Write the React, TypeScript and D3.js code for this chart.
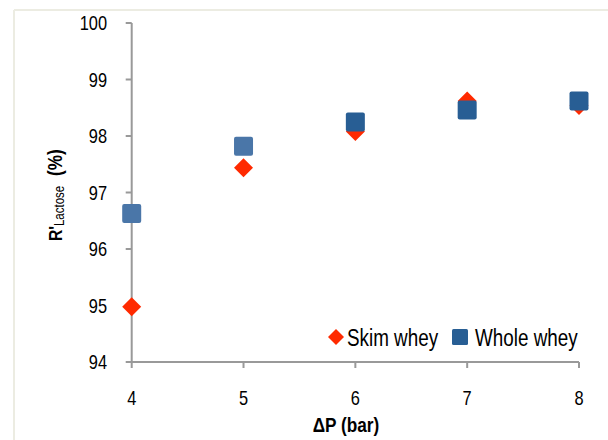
import React from "react";
import * as d3 from "d3";

const pressures = [4, 5, 6, 7, 8];
const skimWhey = [94.98, 97.44, 98.08, 98.62, 98.54];
const wholeWhey = [96.63, 97.82, 98.25, 98.46, 98.62];
const xTicks = [4, 5, 6, 7, 8];
const yTicks = [94, 95, 96, 97, 98, 99, 100];
const seriesNames = ["Skim whey", "Whole whey"];

const W = 608;
const H = 440;
const FONT = "'Liberation Sans', Arial, sans-serif";
const NARROW = 0.82;
const RED = "#ff2a00";
const BLUE_DARK = "#285e94";
const BLUE_LIGHT = "#4a76a8";
const AXIS = "#999999";

function NText(props: {
  x: number;
  y: number;
  size: number;
  anchor?: string;
  bold?: boolean;
  dy?: string;
  children: React.ReactNode;
}) {
  return (
    <text
      transform={`translate(${props.x},${props.y}) scale(${NARROW},1)`}
      textAnchor={props.anchor || "start"}
      dy={props.dy}
      fontFamily={FONT}
      fontSize={props.size}
      fontWeight={props.bold ? "bold" : "normal"}
      fill="#000"
    >
      {props.children}
    </text>
  );
}

export default function App() {
  const x = d3.scaleLinear().domain([4, 8]).range([131.7, 579]);
  const y = d3.scaleLinear().domain([94, 100]).range([362, 23]);
  const diamond = (cx: number, cy: number, r: number, ry: number) =>
    `M${cx},${cy - ry}L${cx + r},${cy}L${cx},${cy + ry}L${cx - r},${cy}Z`;
  const sq = 19;

  return (
    <svg width={W} height={H} style={{ position: "absolute", left: 0, top: 0, background: "#fff" }}>
      {/* frame */}
      <line x1={14} y1={10} x2={W} y2={10} stroke="#ecece2" strokeWidth={2} />
      <line x1={14} y1={10} x2={14} y2={H} stroke="#ecece2" strokeWidth={2} />

      {/* axes */}
      <line x1={x(4)} y1={y(100)} x2={x(4)} y2={y(94)} stroke={AXIS} strokeWidth={2} />
      <line x1={x(4)} y1={y(94)} x2={x(8)} y2={y(94)} stroke={AXIS} strokeWidth={2} />
      {yTicks.map((t) => (
        <g key={"y" + t}>
          <line x1={x(4) - 6} x2={x(4)} y1={y(t)} y2={y(t)} stroke={AXIS} strokeWidth={2} />
          <NText x={107} y={y(t)} dy="0.36em" anchor="end" size={20}>
            {t}
          </NText>
        </g>
      ))}
      {xTicks.map((t) => (
        <g key={"x" + t}>
          <line x1={x(t)} x2={x(t)} y1={y(94)} y2={y(94) + 6} stroke={AXIS} strokeWidth={2} />
          <NText x={x(t)} y={405} anchor="middle" size={20}>
            {t}
          </NText>
        </g>
      ))}

      {/* axis titles */}
      <NText x={346} y={432} anchor="middle" size={21} bold>
        ΔP (bar)
      </NText>
      <text
        transform={`translate(62,241) rotate(-90) scale(${NARROW},1)`}
        textAnchor="start"
        fontFamily={FONT}
        fontSize={19}
        fontWeight="bold"
        fill="#000"
      >
        R'
        <tspan fontSize={14} fontWeight="normal" dy={2}>Lactose</tspan>
        <tspan fontSize={21} dy={-2} dx={12}>(%)</tspan>
      </text>

      {/* skim whey diamonds */}
      {pressures.map((p, i) => (
        <path key={"s" + i} d={diamond(x(p), y(skimWhey[i]), 9.5, 9.5)} fill={RED} />
      ))}
      {/* whole whey squares */}
      {pressures.map((p, i) => (
        <rect
          key={"w" + i}
          x={x(p) - sq / 2}
          y={y(wholeWhey[i]) - sq / 2}
          width={sq}
          height={sq}
          rx={2}
          fill={p <= 5 ? BLUE_LIGHT : BLUE_DARK}
        />
      ))}

      {/* legend */}
      <path d={diamond(336, 337, 8, 8)} fill={RED} />
      <NText x={347} y={346} size={23}>
        {seriesNames[0]}
      </NText>
      <rect x={452} y={329} width={16} height={16} rx={1.5} fill={BLUE_DARK} />
      <NText x={475} y={346} size={23}>
        {seriesNames[1]}
      </NText>
    </svg>
  );
}
